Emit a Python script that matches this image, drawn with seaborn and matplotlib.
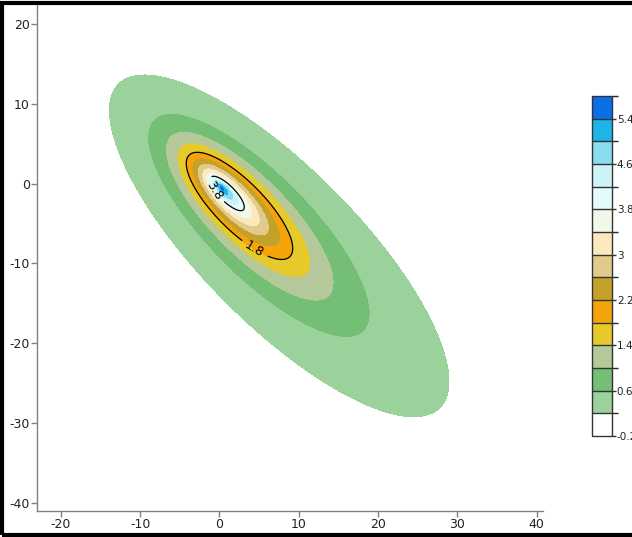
import numpy as np
import matplotlib
matplotlib.use("Agg")
import matplotlib.pyplot as plt
from matplotlib.colors import ListedColormap, BoundaryNorm
from matplotlib.patches import Rectangle
import seaborn as sns

# peak shape
peak_x, peak_y = 0.25, -0.5
peak_value = 5.7
decay_len = 7.7
decay_pow = 0.92
tail_shift = 0.36     # contours drift toward the lower right
width_ratio = 0.34    # minor / major axis of each contour

levels = np.round(np.arange(-0.2, 5.81, 0.4), 1)
band_colors = ["#ffffff", "#9bd29b", "#74be76", "#b4c89a", "#e6ca2c",
               "#f4a40a", "#c4a22a", "#e2ca8c", "#fce8be", "#f0f8ea",
               "#e4fbfb", "#ccf4f6", "#8addf0", "#1eb4ea", "#0a6fe8"]
line_levels = [1.8, 3.8]
cbar_ticks = [-0.2, 0.6, 1.4, 2.2, 3.0, 3.8, 4.6, 5.4]
x_ticks = [-20, -10, 0, 10, 20, 30, 40]
y_ticks = [-40, -30, -20, -10, 0, 10, 20]

sns.set_theme(style="ticks")
plt.rcParams["font.family"] = ["DejaVu Sans"]
plt.rcParams["axes.unicode_minus"] = False

# %%
xs = np.linspace(-23, 40.8, 500)
ys = np.linspace(-41, 22.5, 500)
X, Y = np.meshgrid(xs, ys)
u = ((X - peak_x) - (Y - peak_y)) / np.sqrt(2)
v = ((X - peak_x) + (Y - peak_y)) / np.sqrt(2)
q = u**2 + (v / width_ratio) ** 2
k = tail_shift
rho = (-k * u + np.sqrt(k**2 * u**2 + (1 - k**2) * q)) / (1 - k**2)
Z = peak_value * np.exp(-(rho / decay_len) ** decay_pow)

cmap = ListedColormap(band_colors)
norm = BoundaryNorm(levels, cmap.N)

fig = plt.figure(figsize=(6.32, 5.37), dpi=100)
ax = fig.add_axes([0.0585, 0.0484, 0.8006, 0.9442])
cf = ax.contourf(X, Y, Z, levels=levels, cmap=cmap, norm=norm)
cs = ax.contour(X, Y, Z, levels=line_levels, colors="black", linewidths=0.9)
ax.clabel(cs, fmt="%g", fontsize=9, inline=True,
          manual=[(4.8, -7.6), (-0.6, -0.8)])

ax.set_xlim(-23, 40.8)
ax.set_ylim(-41, 22.5)
ax.set_xticks(x_ticks)
ax.set_yticks(y_ticks)
sns.despine(ax=ax)
for s in ["left", "bottom"]:
    ax.spines[s].set_color("#808080")
    ax.spines[s].set_linewidth(1)
ax.tick_params(length=4, width=1, color="#808080", labelsize=9,
               labelcolor="#222222", pad=1)

cax = fig.add_axes([0.9367, 0.188, 0.0316, 0.633])
cb = fig.colorbar(cf, cax=cax, ticks=cbar_ticks, drawedges=True)
cb.ax.set_yticklabels(["%g" % t for t in cbar_ticks])
cb.outline.set_edgecolor("#333333")
cb.outline.set_linewidth(1)
cb.dividers.set_color("#333333")
cb.dividers.set_linewidth(1)
cb.ax.tick_params(length=3, width=1, color="#333333", labelsize=7.5,
                  labelcolor="#222222", pad=0.5)

fig.patches.append(Rectangle((0.003, 0.004), 1.2, 0.99, transform=fig.transFigure,
                             fill=False, lw=3, ec="black"))

plt.savefig("out.png", dpi=100)
